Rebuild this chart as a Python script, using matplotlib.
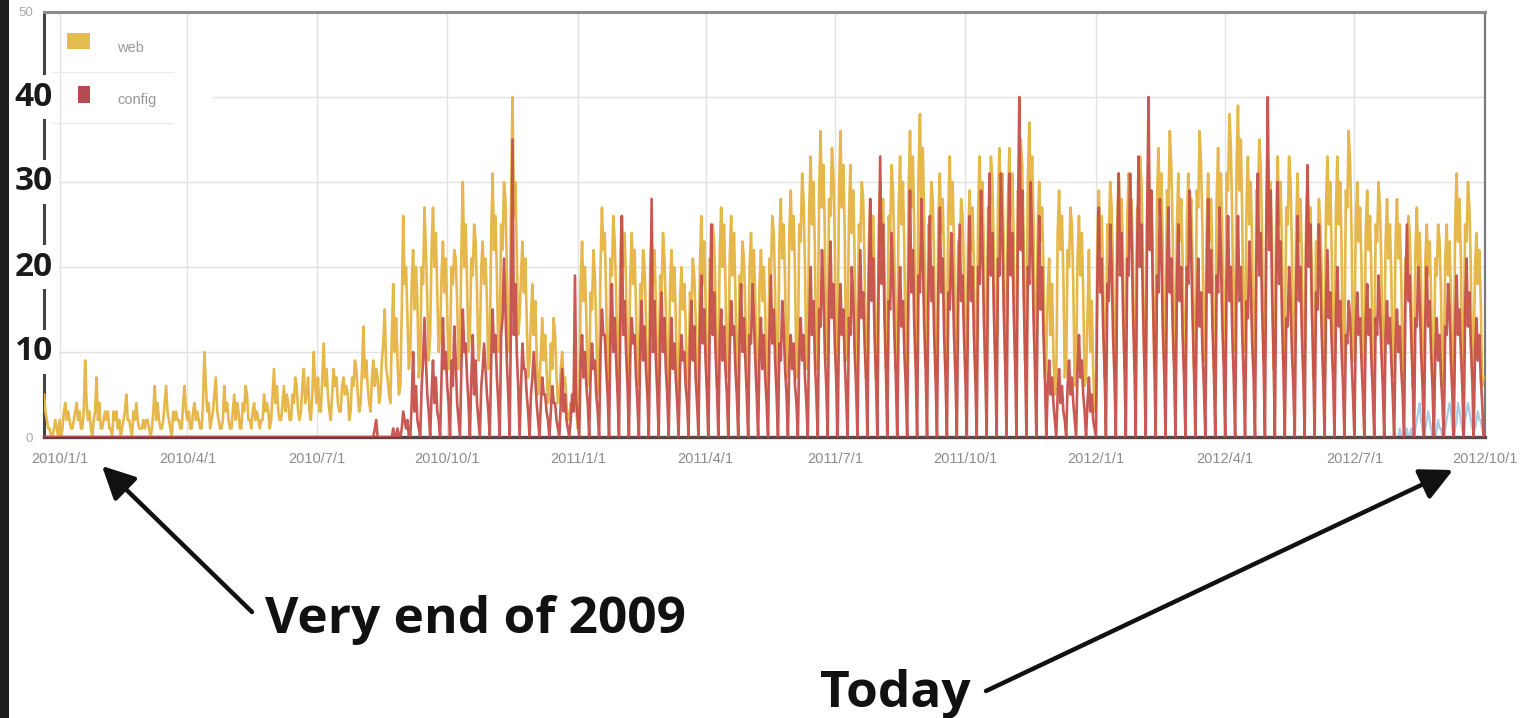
import numpy as np
import pandas as pd
import matplotlib
matplotlib.use("Agg")
import matplotlib.pyplot as plt
from matplotlib.patches import Rectangle, FancyArrowPatch
from matplotlib.lines import Line2D

# ---------------- data (daily values, one row = one week Mon..Sun) ----------------
start_date = "2009-12-21"

web_weeks = [
    [5,3,2,1,1,0,0],[1,2,1,0,2,0,1],[3,4,2,3,2,1,1],[2,3,4,2,3,1,1],[3,9,4,2,3,1,0],
    [2,3,7,2,4,1,1],[2,3,2,3,1,1,0],[3,2,3,1,2,0,1],[2,3,5,2,2,1,0],[3,2,4,2,1,1,1],
    [2,1,2,2,1,0,1],[3,6,2,4,2,1,1],[2,4,6,3,2,1,0],[3,2,3,2,2,1,1],[4,6,3,2,3,1,1],
    [3,4,2,3,2,1,1],[4,10,6,3,4,1,2],[3,5,7,3,2,1,1],[2,6,3,4,2,1,1],[3,5,2,4,3,1,1],
    [4,3,6,5,2,2,1],[3,4,2,3,2,1,2],[2,5,3,4,3,1,2],[5,8,4,6,3,2,2],[4,6,3,5,4,2,2],
    [5,4,7,6,3,2,3],[6,8,4,5,7,3,2],[5,10,6,4,7,3,3],[7,11,6,8,5,3,2],[5,8,6,7,4,3,3],
    [6,7,5,6,5,2,3],[7,6,9,8,5,3,4],[8,13,7,9,6,4,3],[7,9,6,8,7,4,5],[9,11,15,8,7,5,4],
    [12,18,10,14,9,5,6],[15,26,18,20,14,8,10],[18,22,15,20,16,7,9],[20,18,27,22,16,9,12],[22,27,20,24,17,10,12],
    [19,23,17,21,15,8,10],[20,18,22,21,16,8,10],[22,30,20,25,18,10,12],[21,19,25,23,17,9,11],[20,23,18,21,16,8,10],
    [24,31,22,26,19,10,12],[25,22,30,28,20,10,12],[28,40,26,30,22,12,14],[19,23,17,21,14,7,9],[14,18,12,16,10,5,6],
    [10,14,9,12,8,4,5],[11,8,14,12,7,4,5],[8,10,6,7,4,2,2],[4,3,5,8,3,1,2],[18,23,16,20,14,6,7],
    [17,15,22,19,13,5,6],[20,27,22,24,16,6,8],[21,19,26,23,17,7,8],[22,26,20,24,18,7,9],[19,24,18,22,15,6,8],
    [18,16,22,20,14,5,7],[20,24,18,22,16,6,7],[19,17,24,21,15,6,7],[18,22,16,20,14,5,6],[16,20,15,18,13,5,6],
    [17,15,21,19,14,5,6],[20,26,18,23,16,6,8],[21,19,25,23,17,6,8],[22,27,20,25,18,7,8],[21,26,19,24,17,6,8],
    [19,17,23,21,15,6,7],[20,24,18,22,16,6,7],[18,22,16,20,15,5,7],[21,19,26,24,17,6,8],[23,28,21,25,18,7,9],
    [24,29,22,26,19,7,9],[25,23,31,28,20,8,10],[27,33,25,30,22,8,10],[29,36,27,32,24,9,11],[28,26,34,31,23,8,10],
    [29,36,27,32,24,9,11],[26,32,24,29,21,8,10],[25,23,30,28,20,7,9],[23,28,21,26,19,7,9],[25,30,23,28,20,8,9],
    [26,24,32,29,21,8,10],[27,33,25,30,22,8,10],[29,36,27,33,24,9,11],[31,38,28,34,25,9,11],[25,23,30,28,20,7,9],
    [26,31,24,28,21,8,9],[27,33,25,30,22,8,10],[23,21,28,26,19,7,9],[24,29,22,27,20,7,9],[27,33,25,30,22,8,10],
    [27,25,33,30,22,8,10],[28,34,26,31,23,9,10],[28,34,26,31,23,9,10],[29,27,35,32,24,9,11],[30,37,28,33,25,10,11],
    [25,30,23,27,20,7,9],[17,21,12,18,10,5,6],[24,29,22,26,19,7,8],[22,20,27,25,18,6,8],[21,26,19,24,17,6,7],
    [14,22,10,16,8,3,4],[24,29,22,26,19,7,9],[25,23,30,27,20,8,9],[26,31,24,28,21,8,10],[26,31,24,28,21,8,10],
    [27,25,33,30,22,9,10],[26,32,24,29,21,8,10],[28,34,26,31,23,9,10],[29,27,36,32,24,9,11],[25,31,23,28,21,8,9],
    [25,31,23,28,21,8,9],[29,27,36,32,24,9,11],[25,31,23,28,21,8,9],[28,34,26,31,23,9,10],[31,29,38,34,25,10,11],
    [32,39,29,35,26,10,11],[27,33,25,30,22,8,10],[29,27,35,32,23,9,10],[27,33,25,30,22,8,10],[27,33,25,30,22,8,10],
    [27,25,33,30,22,8,10],[25,31,23,28,21,8,9],[25,30,23,27,20,7,9],[23,21,28,25,19,7,8],[27,33,25,30,22,8,10],
    [27,33,25,30,22,8,10],[29,27,36,32,24,9,11],[25,30,23,27,20,7,9],[24,29,22,26,19,7,8],[25,23,30,27,20,7,9],
    [23,28,21,25,19,7,8],[23,28,21,25,19,7,8],[21,19,26,24,17,6,8],[22,27,20,24,18,6,8],[21,25,19,23,17,6,7],
    [21,19,25,23,17,6,7],[21,25,19,23,17,6,7],[25,31,23,28,21,8,9],[25,23,30,27,20,7,9],[20,24,18,22,16,6,7],
]

config_weeks = [
    [0,0,0,0,0,0,0],[0,0,0,0,0,0,0],[0,0,0,0,0,0,0],[0,0,0,0,0,0,0],[0,0,0,0,0,0,0],
    [0,0,0,0,0,0,0],[0,0,0,0,0,0,0],[0,0,0,0,0,0,0],[0,0,0,0,0,0,0],[0,0,0,0,0,0,0],
    [0,0,0,0,0,0,0],[0,0,0,0,0,0,0],[0,0,0,0,0,0,0],[0,0,0,0,0,0,0],[0,0,0,0,0,0,0],
    [0,0,0,0,0,0,0],[0,0,0,0,0,0,0],[0,0,0,0,0,0,0],[0,0,0,0,0,0,0],[0,0,0,0,0,0,0],
    [0,0,0,0,0,0,0],[0,0,0,0,0,0,0],[0,0,0,0,0,0,0],[0,0,0,0,0,0,0],[0,0,0,0,0,0,0],
    [0,0,0,0,0,0,0],[0,0,0,0,0,0,0],[0,0,0,0,0,0,0],[0,0,0,0,0,0,0],[0,0,0,0,0,0,0],
    [0,0,0,0,0,0,0],[0,0,0,0,0,0,0],[0,0,0,0,0,0,0],[0,0,1,2,0,0,0],[0,0,0,0,0,0,0],
    [0,1,0,0,1,0,0],[1,3,2,1,2,0,0],[4,10,3,6,2,1,0],[6,9,14,9,5,3,0],[5,9,4,7,3,2,0],
    [7,14,8,10,6,4,0],[9,6,13,9,4,2,0],[8,15,10,11,7,4,0],[7,12,5,9,4,2,0],[6,8,11,8,5,3,0],
    [9,15,10,12,7,4,0],[12,14,21,15,9,5,0],[15,35,12,18,10,6,0],[6,11,8,8,5,3,0],[5,7,10,7,4,2,0],
    [4,7,5,5,3,2,0],[3,6,4,4,2,1,0],[4,8,3,5,2,1,0],[2,5,3,19,4,2,0],[9,12,7,10,6,4,0],
    [7,11,8,9,5,3,0],[10,15,12,12,8,5,0],[12,18,10,14,9,5,0],[14,26,12,16,10,6,0],[10,14,11,12,7,4,0],
    [11,16,9,13,8,5,0],[12,28,10,16,9,5,0],[12,17,10,14,8,5,0],[9,14,8,11,7,4,0],[8,12,9,10,6,4,0],
    [11,16,9,13,7,4,0],[13,19,11,15,9,5,0],[14,25,12,17,10,6,0],[11,15,9,13,8,5,0],[10,16,12,13,8,5,0],
    [12,18,10,14,9,5,0],[12,11,18,14,9,5,0],[10,14,8,12,7,4,0],[12,19,11,15,9,5,0],[11,9,16,13,8,5,0],
    [9,12,8,11,6,4,0],[10,14,9,12,7,4,0],[13,20,12,16,9,5,0],[15,13,22,17,10,6,0],[16,23,14,18,11,7,0],
    [13,18,12,15,9,5,0],[14,12,20,16,10,6,0],[15,22,14,17,11,7,0],[18,28,16,21,12,7,0],[20,33,18,25,14,8,0],
    [16,15,24,19,12,7,0],[14,20,13,16,10,6,0],[19,29,17,22,13,8,0],[19,17,28,21,13,8,0],[18,26,16,20,12,7,0],
    [18,27,17,21,12,7,0],[17,15,24,19,12,7,0],[17,25,16,19,12,7,0],[18,26,16,20,12,7,0],[20,18,29,22,14,8,0],
    [21,31,19,24,15,9,0],[21,19,31,24,15,9,0],[21,31,19,24,15,9,0],[25,40,22,29,17,10,0],[20,18,30,23,14,8,0],
    [17,26,15,20,12,7,0],[6,9,5,7,4,2,0],[5,8,4,6,3,2,0],[6,9,5,7,4,2,0],[8,12,7,9,5,3,0],
    [4,7,3,5,2,1,0],[19,27,17,21,13,8,0],[18,16,25,20,12,7,0],[21,31,19,24,15,9,0],[21,19,31,24,15,9,0],
    [22,33,20,25,16,9,0],[25,40,22,29,17,10,0],[19,17,28,22,13,8,0],[19,27,17,21,13,8,0],[18,25,16,20,12,7,0],
    [20,18,29,22,14,8,0],[15,21,13,17,10,6,0],[19,28,17,22,13,8,0],[19,17,27,21,13,8,0],[18,26,16,20,12,7,0],
    [18,26,16,20,12,7,0],[16,14,23,18,11,7,0],[21,31,19,24,15,9,0],[25,40,22,29,17,10,0],[20,30,18,23,14,8,0],
    [14,13,20,16,10,6,0],[18,26,16,20,12,7,0],[22,32,20,25,15,9,0],[17,15,25,19,12,7,0],[15,22,14,17,11,7,0],
    [14,20,13,16,10,6,0],[12,11,16,14,9,5,0],[13,17,12,14,9,5,0],[13,18,12,15,9,5,0],[14,12,19,15,10,6,0],
    [12,16,11,14,9,5,0],[11,15,10,13,8,5,0],[17,25,16,19,12,7,0],[14,13,20,16,10,6,0],[14,20,13,16,10,6,0],
    [10,14,9,12,7,4,0],[13,12,18,15,9,5,0],[13,19,12,15,10,6,0],[15,21,13,17,11,7,0],[10,14,9,12,7,4,0],
]

other_start = "2012-07-30"
other_values = [
    0,0,0,1,0,0,0, 0,1,0,0,1,0,0, 1,2,3,4,2,1,0, 1,2,3,2,1,0,0, 0,1,2,1,1,0,0,
    1,2,3,4,3,1,0, 1,2,4,3,2,1,0, 2,3,4,3,2,1,1, 1,2,3,2,2,1,0,
]

x_tick_labels = ["2010/1/1", "2010/4/1", "2010/7/1", "2010/10/1", "2011/1/1", "2011/4/1",
                 "2011/7/1", "2011/10/1", "2012/1/1", "2012/4/1", "2012/7/1", "2012/10/1"]
y_ticks = [0, 10, 20, 30, 40, 50]
big_y_labels = [40, 30, 20, 10]
series_labels = ["web", "config"]
annotation_texts = ["Very end of 2009", "Today"]

# ---------------- styling ----------------
WEB_C = "#E6B84C"
CFG_C = "#C5504A"
OTH_C = "#A9CBE6"
W, H = 1528, 718


def fx(px):
    return px / W


def fy(py):
    return 1 - py / H


fig = plt.figure(figsize=(W / 100, H / 100), dpi=100)
fig.patch.set_facecolor("white")
fig.add_artist(Rectangle((0, 0), fx(9), 1, transform=fig.transFigure,
                         facecolor="#1e1e1e", edgecolor="none"))

ax_l, ax_r, ax_t, ax_b = 44, 1485, 12, 437
ax = fig.add_axes([fx(ax_l), fy(ax_b), fx(ax_r) - fx(ax_l), fy(ax_t) - fy(ax_b)])

web = np.concatenate(web_weeks)
cfg = np.concatenate(config_weeks)
dates = pd.date_range(start_date, periods=len(web), freq="D")
oth_dates = pd.date_range(other_start, periods=len(other_values), freq="D")

ax.plot(oth_dates, other_values, color=OTH_C, lw=1.6, zorder=2)
ax.plot(dates, web, color=WEB_C, lw=1.9, zorder=3)
ax.plot(dates, cfg, color=CFG_C, lw=1.9, zorder=4, alpha=0.95)

ax.set_xlim(pd.Timestamp(start_date), pd.Timestamp("2012-10-01"))
ax.set_ylim(0, 50)

tick_dates = pd.to_datetime(x_tick_labels, format="%Y/%m/%d")
ax.set_xticks(tick_dates)
ax.set_xticklabels(x_tick_labels, fontsize=10.5, color="#8c8c8c", family="Liberation Sans")
ax.set_yticks(y_ticks)
ax.set_yticklabels([str(v) if v in (0, 50) else "" for v in y_ticks],
                   fontsize=9.5, color="#a8a8a8", family="Liberation Sans")
ax.tick_params(axis="x", length=0, pad=11)
ax.tick_params(axis="y", length=0, pad=8)

# grid
for d in tick_dates:
    ax.axvline(d, color="#e2e2e2", lw=1.0, zorder=0)
for v in y_ticks[1:-1]:
    xmin = (213 - ax_l) / (ax_r - ax_l) if v == 40 else 0
    ax.axhline(v, xmin=xmin, color="#e2e2e2", lw=1.0, zorder=0)

for side, col, lw in [("top", "#8c8c8c", 2.2), ("left", "#444444", 2.2),
                      ("right", "#7a7a7a", 1.6), ("bottom", "#5a4644", 2.4)]:
    ax.spines[side].set_color(col)
    ax.spines[side].set_linewidth(lw)

# big overlaid y labels
xlab = (53 - ax_l) / (ax_r - ax_l)
for v in big_y_labels:
    ax.text(xlab, v, str(v), transform=ax.get_yaxis_transform(), ha="right", va="center",
            fontsize=24, fontweight="bold", family="Open Sans", color="#1a1a1a",
            bbox=dict(facecolor="white", edgecolor="none", pad=4), zorder=10, clip_on=False)

# legend (drawn in figure pixel space)
fig.add_artist(Rectangle((fx(67), fy(49)), fx(90) - fx(67), fy(33) - fy(49),
                         transform=fig.transFigure, facecolor="#E5BC50", edgecolor="none"))
fig.add_artist(Rectangle((fx(78), fy(103)), fx(90) - fx(78), fy(86) - fy(103),
                         transform=fig.transFigure, facecolor="#B54A52", edgecolor="none"))
for yy in (72, 123):
    fig.add_artist(Line2D([fx(52), fx(173)], [fy(yy), fy(yy)], transform=fig.transFigure,
                          color="#ececec", lw=1.0))
fig.text(fx(117), fy(48), series_labels[0], fontsize=10.5, color="#999999",
         family="Liberation Sans", va="center", ha="left")
fig.text(fx(117), fy(100), series_labels[1], fontsize=10.5, color="#999999",
         family="Liberation Sans", va="center", ha="left")

# annotations
fig.text(fx(265), fy(633), annotation_texts[0], fontsize=37, fontweight="bold",
         family="Open Sans", color="#111111", ha="left", va="baseline")
fig.text(fx(820), fy(707), annotation_texts[1], fontsize=37, fontweight="bold",
         family="Open Sans", color="#111111", ha="left", va="baseline")

for (x0, y0), (x1, y1) in [((252, 612), (102, 466)), ((986, 691), (1453, 470))]:
    fig.add_artist(FancyArrowPatch((fx(x0), fy(y0)), (fx(x1), fy(y1)),
                                   transform=fig.transFigure,
                                   arrowstyle="-|>,head_length=0.9,head_width=0.45",
                                   mutation_scale=22, lw=3.2, color="#111111",
                                   shrinkA=0, shrinkB=0))

fig.savefig("out.png", dpi=100)
